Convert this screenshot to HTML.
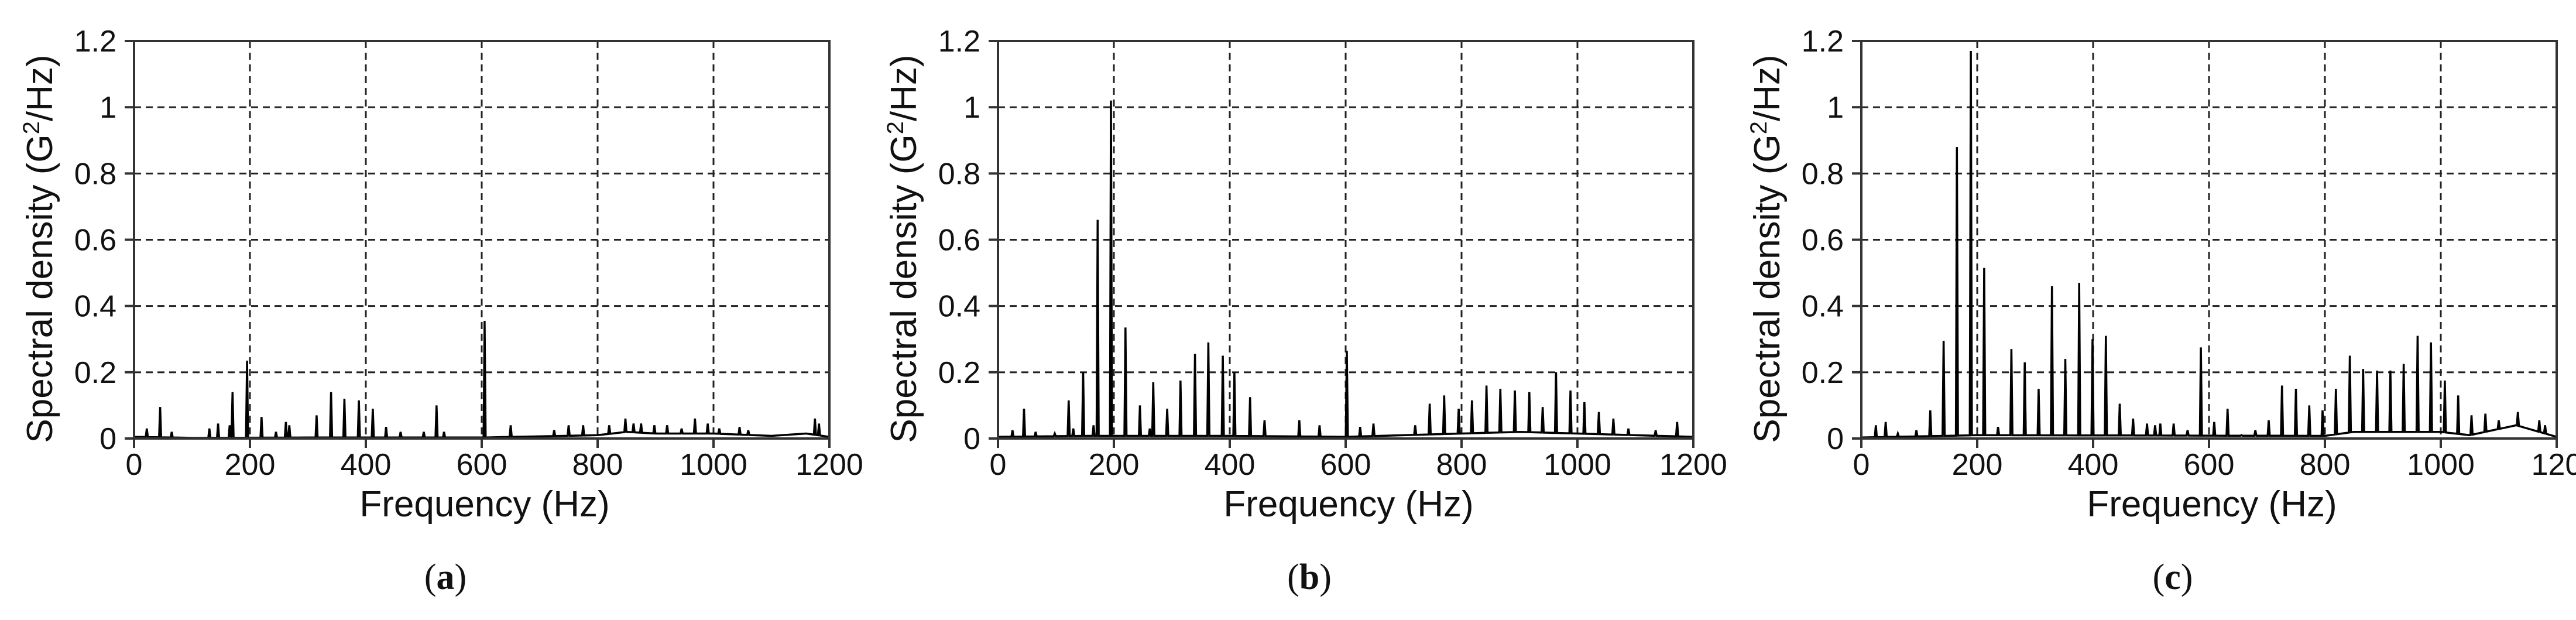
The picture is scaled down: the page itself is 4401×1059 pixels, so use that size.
<!DOCTYPE html>
<html><head><meta charset="utf-8"><style>
html,body{margin:0;padding:0;background:#fff;}
svg{display:block;}
text{font-family:"Liberation Sans",sans-serif;fill:#111;}
.cap{font-family:"Liberation Serif",serif;}
</style></head><body>
<svg id="fig" width="4401" height="1059" viewBox="0 0 4401 1059"></svg>
<script>
// Shared axis ticks
const xTicks = [0, 200, 400, 600, 800, 1000, 1200];
const yTicks = [0, 0.2, 0.4, 0.6, 0.8, 1, 1.2];
const xTickLabelsA = ["0","200","400","600","800","1000","1200"];
const xTickLabelsC = ["0","200","400","600","800","1000","120"];
const yTickLabels = ["0","0.2","0.4","0.6","0.8","1","1.2"];
const panelLabels = ["a","b","c"];

// Panel (a) peaks
const peakFreqA = [22,45,65,130,145,165,170,195,220,245,262,268,315,340,363,388,412,435,460,500,522,535,605,650,725,750,775,820,848,862,875,898,920,945,968,990,1010,1045,1060,1175,1182];
const peakAmpA  = [0.03,0.095,0.02,0.03,0.045,0.04,0.14,0.235,0.065,0.02,0.05,0.04,0.07,0.14,0.12,0.115,0.09,0.035,0.02,0.02,0.1,0.02,0.355,0.04,0.025,0.04,0.04,0.04,0.06,0.045,0.045,0.04,0.04,0.03,0.06,0.045,0.03,0.035,0.025,0.06,0.045];
const floorFreqA = [0,100,300,600,800,850,900,1000,1100,1160,1200];
const floorAmpA  = [0.005,0.002,0.003,0.003,0.01,0.02,0.015,0.015,0.008,0.015,0.005];

// Panel (b) peaks
const peakFreqB = [25,45,65,98,122,130,147,165,172,195,220,245,262,268,292,315,340,363,388,408,435,460,520,555,602,625,648,720,745,770,795,818,843,867,892,917,940,963,988,1012,1037,1062,1088,1135,1172];
const peakAmpB  = [0.025,0.09,0.02,0.015,0.115,0.03,0.2,0.04,0.66,1.02,0.335,0.1,0.03,0.17,0.09,0.175,0.255,0.29,0.25,0.2,0.125,0.055,0.055,0.04,0.265,0.035,0.045,0.04,0.105,0.13,0.09,0.115,0.16,0.15,0.145,0.14,0.095,0.2,0.145,0.11,0.08,0.06,0.03,0.025,0.05];
const floorFreqB = [0,150,400,600,800,900,1000,1200];
const floorAmpB  = [0.005,0.008,0.008,0.005,0.015,0.02,0.015,0.005];

// Panel (c) peaks
const peakFreqC = [25,42,63,95,119,142,165,189,212,236,259,282,306,329,352,376,399,422,446,469,493,507,516,539,563,586,609,632,656,680,703,726,750,773,796,819,843,866,890,913,936,960,983,1007,1030,1053,1077,1100,1133,1170,1180];
const peakAmpC  = [0.04,0.05,0.015,0.025,0.085,0.295,0.88,1.17,0.515,0.035,0.27,0.23,0.15,0.46,0.24,0.47,0.3,0.31,0.105,0.06,0.045,0.04,0.045,0.045,0.025,0.275,0.05,0.09,0.01,0.025,0.055,0.16,0.15,0.1,0.085,0.15,0.25,0.21,0.205,0.205,0.225,0.31,0.29,0.175,0.13,0.07,0.075,0.055,0.08,0.055,0.04];
const floorFreqC = [0,200,800,850,1000,1050,1130,1150,1200];
const floorAmpC  = [0.003,0.01,0.008,0.02,0.02,0.01,0.04,0.03,0.005];

const NS = "http://www.w3.org/2000/svg";
const svg = document.getElementById("fig");
function mk(tag, attrs, parent){
  const e = document.createElementNS(NS, tag);
  for (const k in attrs) e.setAttribute(k, attrs[k]);
  (parent||svg).appendChild(e);
  return e;
}
function floorAt(ff, fa, f){
  for (let i=0;i<ff.length-1;i++){
    if (f>=ff[i] && f<=ff[i+1]) return fa[i]+(fa[i+1]-fa[i])*(f-ff[i])/(ff[i+1]-ff[i]);
  }
  return fa[fa.length-1];
}

const panels = [
  {ox:229, pf:peakFreqA, pa:peakAmpA, ff:floorFreqA, fa:floorAmpA, xl:xTickLabelsA},
  {ox:1705, pf:peakFreqB, pa:peakAmpB, ff:floorFreqB, fa:floorAmpB, xl:xTickLabelsA},
  {ox:3180, pf:peakFreqC, pa:peakAmpC, ff:floorFreqC, fa:floorAmpC, xl:xTickLabelsC}
];
const W = 1188, Y0 = 749, Ytop = 70;

panels.forEach((p, idx) => {
  const g = mk("g", {});
  
  
  const xs = f => p.ox + f / 1200 * W;
  const ys = v => Y0 - v / 1.2 * (Y0 - Ytop);

  // grid
  xTicks.forEach((t, i) => {
    if (i > 0 && i < xTicks.length - 1) {
      const l = mk("line", {x1:xs(t), x2:xs(t), y1:Ytop, y2:Y0, stroke:"#222", "stroke-width":3, "stroke-dasharray":"12 8"}, g);
      
      
    }
  });
  yTicks.forEach((t, i) => {
    if (i > 0 && i < yTicks.length - 1) {
      const l = mk("line", {x1:p.ox, x2:p.ox+W, y1:ys(t), y2:ys(t), stroke:"#222", "stroke-width":3, "stroke-dasharray":"12 8"}, g);
      
      
    }
  });

  // spectrum line
  const pts = [];
  p.ff.forEach((f, i) => pts.push([f, p.fa[i]]));
  p.pf.forEach((f, i) => {
    pts.push([f - 1.8, floorAt(p.ff, p.fa, f - 1.8)]);
    pts.push([f, p.pa[i]]);
    pts.push([f + 1.8, floorAt(p.ff, p.fa, f + 1.8)]);
  });
  pts.sort((a, b) => a[0] - b[0]);
  const d = pts.filter(q => q[0] >= 0 && q[0] <= 1200).map((q, i) => (i ? "L" : "M") + xs(q[0]).toFixed(1) + " " + ys(q[1]).toFixed(1)).join(" ");
  const path = mk("path", {d:d, fill:"none", stroke:"#000", "stroke-width":3.5, "stroke-linejoin":"miter"}, g);
  
  

  // frame
  const fr = mk("rect", {x:p.ox, y:Ytop, width:W, height:Y0-Ytop, fill:"none", stroke:"#333", "stroke-width":4}, g);
  
  

  // ticks & labels
  xTicks.forEach((t, i) => {
    const tk = mk("line", {x1:xs(t), x2:xs(t), y1:Y0, y2:Y0+16, stroke:"#333", "stroke-width":4}, g);
    
    
    const tx = mk("text", {x:xs(t), y:Y0+62, "font-size":52, "text-anchor":"middle"}, g);
    tx.textContent = p.xl[i];
    
    
  });
  yTicks.forEach((t, i) => {
    const tk = mk("line", {x1:p.ox-16, x2:p.ox, y1:ys(t), y2:ys(t), stroke:"#333", "stroke-width":4}, g);
    
    
    const tx = mk("text", {x:p.ox-30, y:ys(t)+18, "font-size":52, "text-anchor":"end"}, g);
    tx.textContent = yTickLabels[i];
    
    
  });

  // axis titles
  const yt = mk("text", {x:0, y:0, "font-size":62, "text-anchor":"middle", transform:"translate(" + (p.ox-140) + "," + 425 + ") rotate(-90)"}, g);
  
  
  yt.appendChild(document.createTextNode("Spectral density (G"));
  const sup = mk("tspan", {"font-size":40, dy:-22}, yt);
  sup.textContent = "2";
  const rest = mk("tspan", {dy:22}, yt);
  rest.textContent = "/Hz)";

  const xt = mk("text", {x:p.ox+599, y:882, "font-size":62, "text-anchor":"middle"}, g);
  xt.textContent = "Frequency (Hz)";
  
  

  // caption
  const cap = mk("text", {x:p.ox+532, y:1006, "font-size":62, "text-anchor":"middle", "class":"cap"}, g);
  
  
  cap.appendChild(document.createTextNode("("));
  const b = mk("tspan", {"font-weight":"bold"}, cap);
  b.textContent = panelLabels[idx];
  cap.appendChild(document.createTextNode(")"));
});
</script>
</body></html>
